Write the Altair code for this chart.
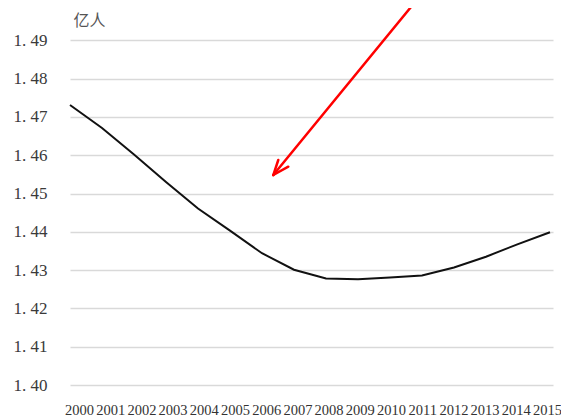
import altair as alt
import pandas as pd

years = list(range(2000, 2016))
population = [1.4731, 1.4671, 1.4602, 1.4530, 1.4461, 1.4403, 1.4344, 1.4301,
              1.4278, 1.4276, 1.4281, 1.4286, 1.4307, 1.4335, 1.4368, 1.4399]
y_ticks = [1.40, 1.41, 1.42, 1.43, 1.44, 1.45, 1.46, 1.47, 1.48, 1.49]
unit_label = "亿人"

# red annotation arrow (shaft + two head wings), in data units
arrow_x = [2010.834, 2006.822, 2006.509]
arrow_y = [1.50052, 1.45700, 1.45875]
arrow_x2 = [2006.353, 2006.353, 2006.353]
arrow_y2 = [1.45483, 1.45483, 1.45483]

df = pd.DataFrame({"year": years, "pop": population})
arrow_df = pd.DataFrame({"x": arrow_x, "y": arrow_y, "x2": arrow_x2, "y2": arrow_y2})

xscale = alt.Scale(domain=[2000, 2015.094], nice=False, zero=False)
yscale = alt.Scale(domain=[1.40, 1.4974], nice=False, zero=False)

x_axis = alt.Axis(values=years, format="d", title=None, grid=False, ticks=False,
                  domain=False, labelFont="Liberation Serif", labelFontSize=14.5,
                  labelColor="#333333", labelPadding=18, labelBaseline="top",
                  labelOffset=alt.ExprRef("9 - (datum.value - 2000) * 0.8"),
                  labelOverlap=False, labelBound=False, labelFlush=False)
y_axis = alt.Axis(values=y_ticks, title=unit_label, titleAngle=0, titleX=3, titleY=8,
                  titleAlign="left", titleBaseline="middle",
                  titleFont="Noto Sans CJK SC", titleFontSize=16, titleFontWeight="normal",
                  titleColor="#555555",
                  labelExpr="replace(format(datum.value, '.2f'), '.', '. ')",
                  labelFont="Liberation Serif", labelFontSize=17, labelColor="#3a3a3a",
                  labelPadding=23, ticks=False, domain=False,
                  grid=True, gridColor="#d9d9d9", gridWidth=1.5)

line = alt.Chart(df).mark_line(color="#111111", strokeWidth=2).encode(
    x=alt.X("year:Q", scale=xscale, axis=x_axis),
    y=alt.Y("pop:Q", scale=yscale, axis=y_axis),
)

arrow = alt.Chart(arrow_df).mark_rule(color="#ff0000", strokeWidth=2.5, strokeCap="round").encode(
    x=alt.X("x:Q", scale=xscale, axis=x_axis), y=alt.Y("y:Q", scale=yscale, axis=y_axis),
    x2="x2:Q", y2="y2:Q",
)

chart = alt.layer(line, arrow).properties(
    width=483, height=373, background="white",
    autosize=alt.AutoSizeParams(type="none"),
    padding={"left": 62, "top": 4, "right": 8, "bottom": 34},
).configure_view(stroke=None)

chart.save("out.html", embed_options={"renderer": "svg", "actions": False})
